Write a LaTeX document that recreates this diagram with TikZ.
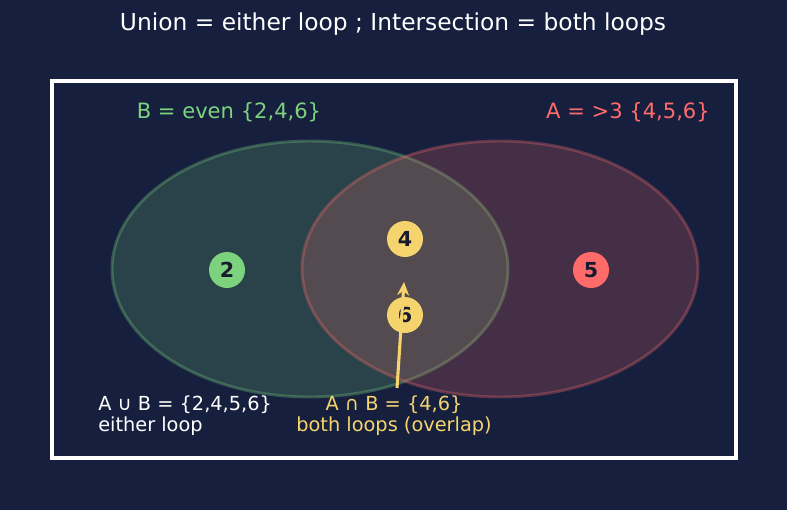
\documentclass[tikz,border=0pt]{standalone}
\usepackage{fontspec}
\setmainfont{DejaVu Sans}
\usetikzlibrary{arrows.meta}
\definecolor{bg}{HTML}{16203E}
\definecolor{grn}{HTML}{7DD37D}
\definecolor{rd}{HTML}{FF6B6B}
\definecolor{ylw}{HTML}{F5D46E}
\definecolor{dk}{HTML}{1A1A2E}
\tikzset{
  setA/.style={draw=grn, draw opacity=0.3, fill=grn, fill opacity=0.2, line width=2.2pt},
  setB/.style={draw=rd, draw opacity=0.3, fill=rd, fill opacity=0.2, line width=2.2pt},
  elem/.style={circle, minimum size=27pt, inner sep=0pt, text=dk, font=\fontsize{15.5}{17}\selectfont\bfseries},
  lbl/.style={font=\fontsize{15.8}{17}\selectfont, inner sep=0pt},
  note/.style={inner sep=0pt, font=\fontsize{14.5}{15.8}\selectfont},
}
\begin{document}
\begin{tikzpicture}[x=0.75pt,y=-0.75pt]
\fill[bg] (0,0) rectangle (787,510);
\useasboundingbox (0,0) rectangle (787,510);
\node[lbl, font=\fontsize{17.5}{19}\selectfont, text=white] (title) at (393,24) {Union = either loop ; Intersection = both loops};
\draw[white, line width=2.3pt] (52,81) rectangle (736,458);
\node[lbl, text=grn] (labB) at (229,112) {B = even \{2,4,6\}};
\node[lbl, text=rd] (labA) at (628,112) {A = >3 \{4,5,6\}};
\path[setA] (310,269) ellipse [x radius=198, y radius=128];
\path[setB] (500,269) ellipse [x radius=198, y radius=128];
\node[elem, fill=grn] (e2) at (227,270) {2};
\node[elem, fill=ylw] (e4) at (405,239) {4};
\node[elem, fill=ylw] (e6) at (405,315) {6};
\node[elem, fill=rd] (e5) at (591,270) {5};
\node[note, text=white, anchor=west, align=left] (uni) at (98,415.5) {A ∪ B = \{2,4,5,6\}\\either loop};
\node[note, text=ylw, align=center] (inter) at (394,415.5) {A ∩ B = \{4,6\}\\both loops (overlap)};
\coordinate (tip) at (404,282);
\coordinate (st) at (397,388);
\draw[ylw, line width=2.3pt, -{Stealth[length=10pt,width=9pt]}] (st) -- (tip);
\end{tikzpicture}
\end{document}
